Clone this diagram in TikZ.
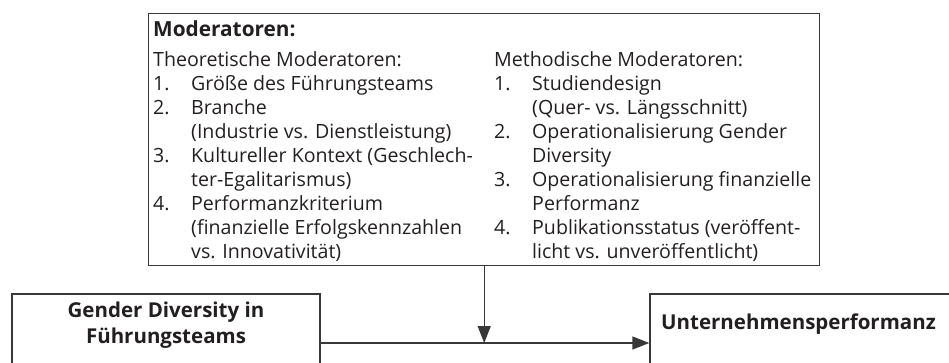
\documentclass[tikz,border=0pt]{standalone}
\usepackage{fontspec}
\setmainfont{Open Sans}
\usetikzlibrary{arrows.meta}
\definecolor{linegray}{HTML}{383838}
\definecolor{textblack}{HTML}{231F20}
\newcommand\ModList[1]{\begin{tabular}[t]{@{}p{38pt}@{}l@{}}#1\end{tabular}}

\begin{document}
\begin{tikzpicture}[x=1pt,y=1pt,
    box/.style={draw=linegray,line width=1.4pt,inner sep=0pt},
    modtext/.style={anchor=base west,inner sep=0pt,font=\fontsize{19.6}{24}\selectfont,text=textblack},
    headtext/.style={inner sep=0pt,align=center,font=\fontsize{20.5}{26}\selectfont\bfseries,text=textblack},
    arr/.style={draw=linegray,line width=1.4pt,-{Triangle[length=17pt,width=13pt]}}]
    \useasboundingbox (0,0) rectangle (949,-362);
    \clip (0,0) rectangle (949,-362);
    % Moderatoren
    \node[box,minimum width=671,minimum height=252,anchor=north west] (mod) at (148,-13) {};
    \node[modtext,font=\fontsize{20.8}{24}\selectfont\bfseries] (modtitle) at (153,-36) {Moderatoren:};
    \node[modtext] (theo) at (153,-66) {\ModList{%
        \multicolumn{2}{@{}l}{Theoretische Moderatoren:}\\
        1. & Größe des Führungsteams\\
        2. & Branche\\
           & (Industrie vs. Dienstleistung)\\
        3. & Kultureller Kontext (Geschlech-\\
           & ter-Egalitarismus)\\
        4. & Performanzkriterium\\
           & (finanzielle Erfolgskennzahlen\\
           & vs. Innovativität)}};
    \node[modtext] (meth) at (494,-66) {\ModList{%
        \multicolumn{2}{@{}l}{Methodische Moderatoren:}\\
        1. & Studiendesign\\
           & (Quer- vs. Längsschnitt)\\
        2. & Operationalisierung Gender\\
           & Diversity\\
        3. & Operationalisierung finanzielle\\
           & Performanz\\
        4. & Publikationsstatus (veröffent-\\
           & licht vs. unveröffentlicht)}};
    % Modell
    \node[box,minimum width=308,minimum height=98] (gdiv) at (166,-343) {};
    \node[headtext] (gdivtext) at (166,-325) {Gender Diversity in\\Führungsteams};
    \node[box,minimum width=350,minimum height=98] (perf) at (825,-343) {};
    \node[headtext,anchor=west] (perftext) at (661,-324) {Unternehmensperformanz};
    \draw[arr] (gdiv) -- (perf);
    \draw[arr] (mod.south) -- (mod.south |- gdiv.east);
\end{tikzpicture}
\end{document}
